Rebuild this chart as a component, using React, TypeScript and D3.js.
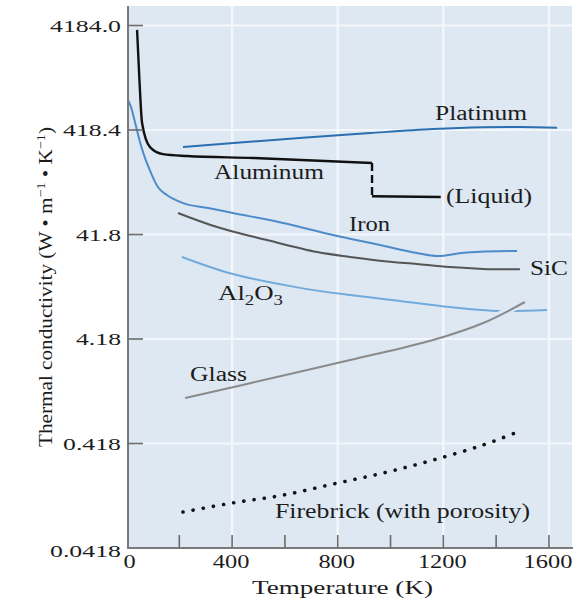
import React from 'react';
import * as d3 from 'd3';

type Pt = [number, number]; // [temperature K, conductivity W/m/K]

const xTickValues = [0, 400, 800, 1200, 1600];
const xMinorTicks = [200, 400, 600, 800, 1000, 1200, 1400, 1600];
const yTickValues = [0.0418, 0.418, 4.18, 41.8, 418.4, 4184.0];
const yTickLabels = ['0.0418', '0.418', '4.18', '41.8', '418.4', '4184.0'];

const aluminumSolid: Pt[] = [
    [40, 3800], [49, 1260], [59, 488], [89, 287], [138, 246],
    [229, 236], [479, 226], [930, 202],
];
const aluminumMelt: Pt[] = [[930, 202], [930, 97]];
const aluminumLiquid: Pt[] = [[930, 97], [1190, 95.5]];
const platinum: Pt[] = [
    [214, 287], [582, 340], [923, 391], [1161, 427], [1351, 445], [1491, 447], [1631, 439],
];
const iron: Pt[] = [
    [6, 809], [17, 694], [32, 499], [51, 321], [70, 226], [89, 171], [119, 119],
    [153, 99.8], [214, 83.6], [309, 75], [403, 67.2], [593, 53.9], [782, 41.3],
    [960, 33.2], [1100, 27.8], [1176, 26], [1290, 28.2], [1479, 29.1],
];
const siliconCarbide: Pt[] = [
    [195, 67.2], [343, 49.3], [532, 37], [722, 28.4], [847, 25.5], [960, 23.5],
    [1100, 21.8], [1225, 20.4], [1350, 19.6], [1490, 19.4],
];
const alumina: Pt[] = [
    [210, 25.5], [403, 17.5], [657, 12.9], [847, 11], [1036, 9.67], [1225, 8.46],
    [1415, 7.75], [1593, 7.92],
];
const glass: Pt[] = [
    [222, 1.14], [468, 1.58], [847, 2.63], [1161, 4.09], [1351, 5.95], [1509, 9.45],
];
const firebrick: Pt[] = [
    [214, 0.0923], [403, 0.113], [593, 0.134], [782, 0.171], [972, 0.218],
    [1161, 0.29], [1351, 0.405], [1472, 0.527],
];

const W = 581;
const H = 603;
const BG = '#dee8f3';
const GRID = '#f3f7fb';
const FONT = '"Liberation Serif", "Times New Roman", serif';
const INK = '#1c1c1c';

const x = d3.scaleLinear().domain([0, 1690]).range([126.5, 572.7]);
const y = d3.scaleLog().domain([0.0418, 4184]).range([548, 25.5]);

const smooth = d3.line<Pt>()
    .x(d => x(d[0]))
    .y(d => y(d[1]))
    .curve(d3.curveCatmullRom.alpha(0.5));
const steep = d3.line<Pt>()
    .x(d => x(d[0]))
    .y(d => y(d[1]))
    .curve(d3.curveMonotoneX);
const straight = d3.line<Pt>()
    .x(d => x(d[0]))
    .y(d => y(d[1]));

const App: React.FC = () => {
    const plotLeft = 128;
    const plotRight = 572;
    const plotTop = 6;
    const plotBottom = y(0.0418);

    return (
        <svg width={W} height={H} style={{ position: 'absolute', left: 0, top: 0, background: '#fff' }}
            fontFamily={FONT}>
            {/* plot background */}
            <rect x={plotLeft} y={plotTop} width={plotRight - plotLeft} height={plotBottom - plotTop} fill={BG} />

            {/* grid */}
            {yTickValues.slice(1).map(v => (
                <line key={'gy' + v} x1={plotLeft} x2={plotRight} y1={y(v)} y2={y(v)} stroke={GRID} strokeWidth={2} />
            ))}
            {xTickValues.slice(1).map(v => (
                <line key={'gx' + v} x1={x(v)} x2={x(v)} y1={plotTop} y2={plotBottom} stroke={GRID} strokeWidth={2.5} />
            ))}

            {/* series */}
            <path d={smooth(platinum) || ''} fill="none" stroke="#2b6fb0" strokeWidth={2} />
            <path d={steep(iron) || ''} fill="none" stroke="#4d8cc8" strokeWidth={2} />
            <path d={smooth(siliconCarbide) || ''} fill="none" stroke="#555" strokeWidth={2} />
            <path d={smooth(alumina) || ''} fill="none" stroke="#72aadb" strokeWidth={2} />
            <path d={straight(glass.slice(-2)) || ''} fill="none" stroke={BG} strokeWidth={7} />
            <path d={smooth(glass) || ''} fill="none" stroke="#8a8a8a" strokeWidth={2} />
            <path d={smooth(firebrick) || ''} fill="none" stroke="#111" strokeWidth={3.6}
                strokeLinecap="round" strokeDasharray="0.1 10.2" />
            <path d={steep(aluminumSolid) || ''} fill="none" stroke="#111" strokeWidth={2.4} />
            <path d={straight(aluminumMelt) || ''} fill="none" stroke="#111" strokeWidth={2.4} strokeDasharray="8 4" />
            <path d={straight(aluminumLiquid) || ''} fill="none" stroke="#111" strokeWidth={2.4} />

            {/* axes */}
            <line x1={plotLeft} x2={plotLeft} y1={plotTop} y2={plotBottom + 1} stroke="#7a7a7a" strokeWidth={2} />
            <line x1={plotLeft - 1} x2={573} y1={plotBottom} y2={plotBottom} stroke="#7a7a7a" strokeWidth={2} />
            {yTickValues.slice(1).map(v => (
                <line key={'ty' + v} x1={plotLeft} x2={plotLeft + 15} y1={y(v)} y2={y(v)} stroke="#6a6a6a" strokeWidth={1.6} />
            ))}
            {xMinorTicks.map(v => (
                <line key={'tx' + v} x1={x(v)} x2={x(v)} y1={plotBottom} y2={plotBottom - 13} stroke="#6a6a6a" strokeWidth={1.6} />
            ))}

            {/* tick labels */}
            {yTickValues.map((v, i) => {
                const lab = yTickLabels[i];
                const digits = lab.replace('.', '').length;
                return (
                    <text key={'ly' + v} x={121} y={y(v) + (i === 0 ? 9 : 6)} textAnchor="end" fontSize={17.5} fill={INK}
                        textLength={digits * 13 + 6} lengthAdjust="spacingAndGlyphs">{lab}</text>
                );
            })}
            {xTickValues.map(v => {
                const lab = String(v);
                return (
                    <text key={'lx' + v} x={v === 0 ? 129.5 : x(v) - 1} y={568} textAnchor="middle" fontSize={18} fill={INK}
                        textLength={lab.length * 12.2} lengthAdjust="spacingAndGlyphs">{lab}</text>
                );
            })}

            {/* axis titles */}
            <text x={342.5} y={594} textAnchor="middle" fontSize={19.5} fill={INK}
                textLength={181} lengthAdjust="spacingAndGlyphs">Temperature (K)</text>
            <text transform="translate(52,287) rotate(-90)" textAnchor="middle" fontSize={19.5} fill={INK}
                textLength={320} lengthAdjust="spacingAndGlyphs">
                Thermal conductivity (W • m<tspan dy={-7} fontSize={13}>−1</tspan><tspan dy={7}> • K</tspan><tspan dy={-7} fontSize={13}>−1</tspan><tspan dy={7}>)</tspan>
            </text>

            {/* series labels */}
            <g fontSize={20} fill={INK}>
                <text x={435} y={120} textLength={92} lengthAdjust="spacingAndGlyphs">Platinum</text>
                <text x={214} y={179} textLength={110} lengthAdjust="spacingAndGlyphs">Aluminum</text>
                <text x={446} y={203} textLength={86} lengthAdjust="spacingAndGlyphs">(Liquid)</text>
                <text x={349} y={231} textLength={41} lengthAdjust="spacingAndGlyphs">Iron</text>
                <text x={530} y={275} textLength={38} lengthAdjust="spacingAndGlyphs">SiC</text>
                <text x={218} y={300} textLength={65} lengthAdjust="spacingAndGlyphs">
                    Al<tspan dy={5} fontSize={14}>2</tspan><tspan dy={-5}>O</tspan><tspan dy={5} fontSize={14}>3</tspan>
                </text>
                <text x={190} y={381} textLength={57} lengthAdjust="spacingAndGlyphs">Glass</text>
                <text x={275} y={518} textLength={255} lengthAdjust="spacingAndGlyphs">Firebrick (with porosity)</text>
            </g>
        </svg>
    );
};

export default App;
